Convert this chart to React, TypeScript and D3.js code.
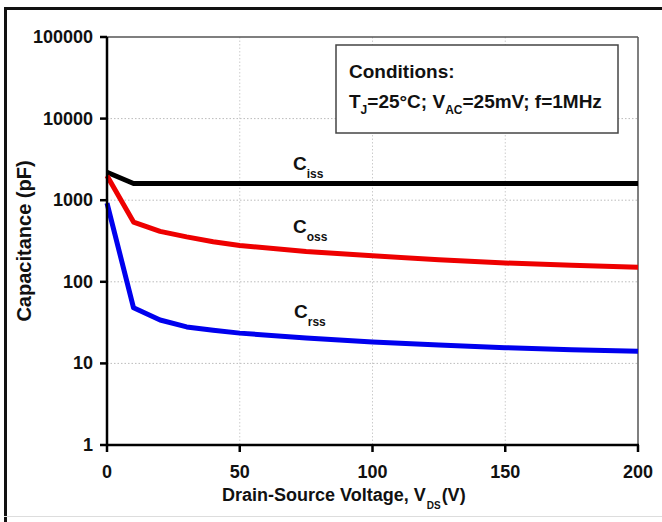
import React from "react";
import * as d3 from "d3";

const voltages = [0, 10, 20, 30, 40, 50, 75, 100, 125, 150, 175, 200];
const ciss = [2200, 1600, 1600, 1600, 1600, 1600, 1600, 1600, 1600, 1600, 1600, 1600];
const coss = [2000, 540, 415, 355, 310, 278, 235, 208, 186, 170, 160, 151];
const crss = [920, 48, 34, 28, 25.5, 23.5, 20.5, 18.3, 16.8, 15.6, 14.7, 14.1];
const yTicks = [1, 10, 100, 1000, 10000, 100000];
const xTicks = [0, 50, 100, 150, 200];

const series = [
  { name: "iss", values: ciss, color: "#000000", label: [293, 170] },
  { name: "oss", values: coss, color: "#ee0000", label: [293, 233] },
  { name: "rss", values: crss, color: "#0000ee", label: [294, 318] },
];

const W = 662;
const H = 522;
const left = 107;
const right = 638;
const top = 37;
const bottom = 445;

const x = d3.scaleLinear().domain([0, 200]).range([left, right]);
const y = d3.scaleLog().domain([1, 100000]).range([bottom, top]);

const font = "'Liberation Sans', Arial, sans-serif";

function App() {
  const line = d3
    .line<number>()
    .x((_, i) => x(voltages[i]))
    .y((d) => y(d));

  return (
    <svg
      width={W}
      height={H}
      style={{ position: "fixed", left: 0, top: 0, background: "#fff" }}
      fontFamily={font}
      fontWeight="bold"
    >
      <rect width={W} height={H} fill="#fff" />
      {/* outer frame */}
      <line x1={4} x2={W} y1={8.5} y2={8.5} stroke="#111" strokeWidth={3} />
      <line x1={5.5} x2={5.5} y1={7} y2={H} stroke="#111" strokeWidth={3} />
      <line x1={4} x2={W} y1={516.5} y2={516.5} stroke="#ddd" strokeWidth={1} />

      {/* grid */}
      {yTicks.slice(1, -1).map((t) => (
        <line
          key={`gy${t}`}
          x1={left}
          x2={right}
          y1={y(t)}
          y2={y(t)}
          stroke="#bbb"
          strokeWidth={1}
          strokeDasharray="1.5 2"
        />
      ))}
      {xTicks.slice(1, -1).map((t) => (
        <line
          key={`gx${t}`}
          x1={x(t)}
          x2={x(t)}
          y1={top}
          y2={bottom}
          stroke="#ccc"
          strokeWidth={1}
          strokeDasharray="1.5 2"
        />
      ))}

      {/* plot frame top/right */}
      <line x1={left} x2={right} y1={top} y2={top} stroke="#555" strokeWidth={1.5} />
      <line x1={right} x2={right} y1={top} y2={bottom} stroke="#555" strokeWidth={1.5} />

      {/* series */}
      {series.map((s) => (
        <path
          key={s.name}
          d={line(s.values) || ""}
          fill="none"
          stroke={s.color}
          strokeWidth={5}
          strokeLinejoin="round"
        />
      ))}

      {/* axes */}
      <line x1={left} x2={left} y1={top} y2={bottom + 1} stroke="#000" strokeWidth={2.5} />
      <line x1={left - 1} x2={right + 1} y1={bottom} y2={bottom} stroke="#000" strokeWidth={2.5} />
      {yTicks.map((t) => (
        <g key={`yt${t}`}>
          <line x1={left - 7} x2={left} y1={y(t)} y2={y(t)} stroke="#000" strokeWidth={2.5} />
          <text x={left - 14} y={y(t) + 6} textAnchor="end" fontSize={18} fill="#111">
            {t}
          </text>
        </g>
      ))}
      {xTicks.map((t) => (
        <g key={`xt${t}`}>
          <line x1={x(t)} x2={x(t)} y1={bottom} y2={bottom + 7} stroke="#000" strokeWidth={2.5} />
          <text x={x(t)} y={bottom + 33} textAnchor="middle" fontSize={18} fill="#111">
            {t}
          </text>
        </g>
      ))}

      {/* axis titles */}
      <text x={222} y={501} fontSize={18} fill="#111">
        Drain-Source Voltage, V
        <tspan fontSize={10} dy={8} dx={1}>DS</tspan>
        <tspan dy={-8} dx={1}>(V)</tspan>
      </text>
      <text
        transform={`translate(31,${(top + bottom) / 2}) rotate(-90)`}
        textAnchor="middle"
        fontSize={20}
        fill="#111"
      >
        Capacitance (pF)
      </text>

      {/* series labels */}
      {series.map((s) => (
        <text key={`l${s.name}`} x={s.label[0]} y={s.label[1]} fontSize={19} fill="#111">
          C
          <tspan fontSize={12} dy={8}>{s.name}</tspan>
        </text>
      ))}

      {/* conditions box */}
      <rect x={336} y={45} width={282} height={88} fill="#fff" stroke="#444" strokeWidth={1.5} />
      <text x={349} y={78} fontSize={19} fill="#111">
        Conditions:
      </text>
      <text x={349} y={108} fontSize={19} fill="#111">
        T<tspan fontSize={12} dy={6}>J</tspan>
        <tspan dy={-6}>=25°C; V</tspan>
        <tspan fontSize={12} dy={6}>AC</tspan>
        <tspan dy={-6}>=25mV; f=1MHz</tspan>
      </text>
    </svg>
  );
}

export default App;
